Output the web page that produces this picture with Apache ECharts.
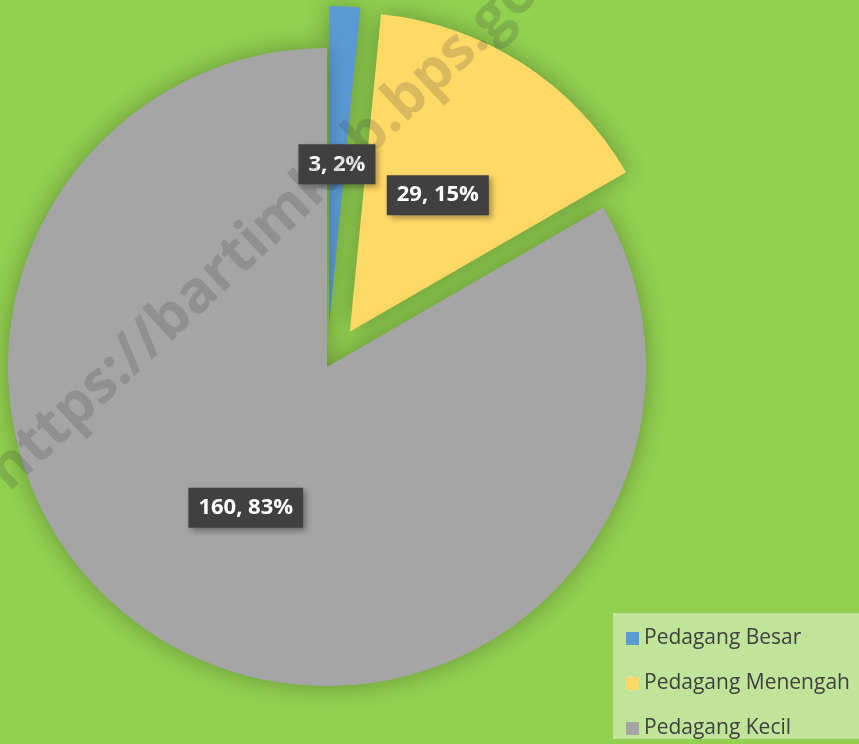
<!DOCTYPE html>
<html>
<head>
<meta charset="utf-8">
<script src="https://cdn.jsdelivr.net/npm/echarts@6/dist/echarts.min.js"></script>
<style>
  html, body { margin: 0; padding: 0; background: #92D050; }
  #chart { width: 859px; height: 744px; }
</style>
</head>
<body>
<div id="chart"></div>
<script>
// pedagang categories and counts
const categories = ['Pedagang Besar', 'Pedagang Menengah', 'Pedagang Kecil'];
const counts = [3, 29, 160];
const exploded = [true, true, false];
const sliceColors = ['#5B9BD5', '#FFD966', '#A5A5A5'];
const watermark = 'https://bartimkab.bps.go.id';

const chart = echarts.init(document.getElementById('chart'));

// the thin slice is too narrow for an 'inside' label, so echarts hides it;
// put it "outside" but pull it back into the middle of the radius
const thinLabel = {
  position: 'outside',
};

const pieData = categories.map((name, i) => ({
  name,
  value: counts[i],
  selected: exploded[i],
  itemStyle: { color: sliceColors[i] },
  label: i === 0 ? thinLabel : undefined,
  labelLine: i === 0 ? { show: false, length: -158, length2: 0 } : undefined,
}));

const option = {
  backgroundColor: '#92D050',
  animation: false,
  legend: {
    orient: 'vertical',
    left: 613,
    top: 613,
    padding: [15, 14, 0, 13],
    backgroundColor: '#BFE49A',
    itemWidth: 13,
    itemHeight: 13,
    itemGap: 24,
    icon: 'rect',
    selectedMode: false,
    textStyle: {
      fontFamily: 'Open Sans',
      fontSize: 21,
      lineHeight: 21,
      color: '#404040',
    },
    data: categories,
  },
  graphic: [
    {
      type: 'text',
      x: 290,
      y: 208,
      rotation: (43 * Math.PI) / 180,
      z: 100,
      silent: true,
      style: {
        text: watermark,
        fontFamily: 'Open Sans',
        fontWeight: 'bold',
        fontSize: 58,
        fill: 'rgba(60,60,60,0.2)',
        align: 'center',
        verticalAlign: 'middle',
      },
    },
  ],
  series: [
    {
      type: 'pie',
      center: [327, 367],
      radius: 319,
      startAngle: 90,
      clockwise: true,
      selectedMode: 'multiple',
      selectedOffset: 42,
      percentPrecision: 0,
      avoidLabelOverlap: false,
      itemStyle: {
        shadowBlur: 25,
        shadowColor: 'rgba(0,0,0,0.3)',
      },
      label: {
        show: true,
        position: 'inside',
        formatter: '{c}, {d}%',
        fontFamily: 'Open Sans',
        fontWeight: 'bold',
        fontSize: 22,
        color: '#ffffff',
        backgroundColor: '#404040',
        padding: [10, 10, 8, 10],
        shadowBlur: 6,
        shadowOffsetX: 3,
        shadowOffsetY: 3,
        shadowColor: 'rgba(0,0,0,0.35)',
      },
      labelLine: { show: false },
      labelLayout: (params) =>
        params.dataIndex === 0
          ? { align: 'center', verticalAlign: 'middle', dx: -5 }
          : {},
      emphasis: { disabled: true },
      data: pieData,
    },
  ],
};

chart.setOption(option);
</script>
</body>
</html>
